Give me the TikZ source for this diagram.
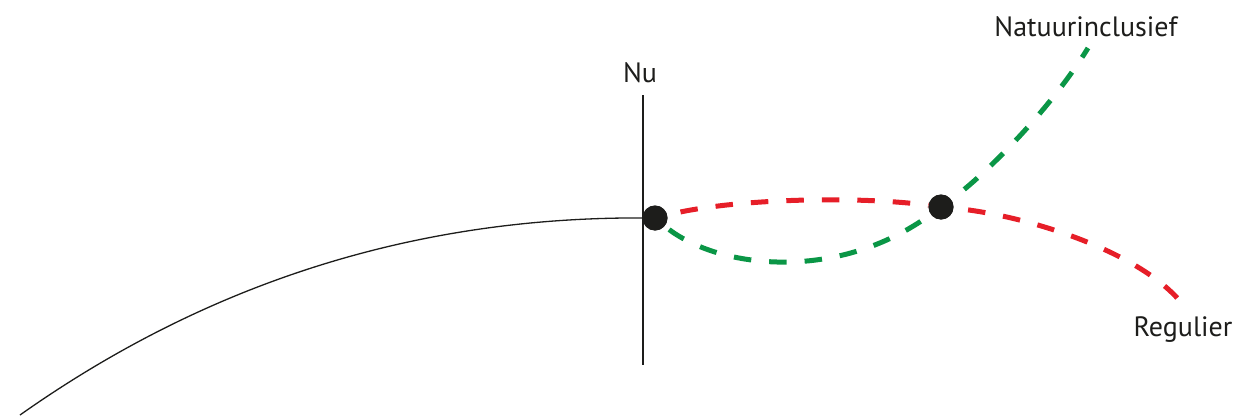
\documentclass[tikz,border=0pt]{standalone}
\usepackage{fontspec}
\setmainfont{PT Sans}
\usetikzlibrary{calc}

\definecolor{regred}{RGB}{230,30,40}
\definecolor{natgreen}{RGB}{10,150,70}
\definecolor{inkblack}{RGB}{29,29,27}

\begin{document}
\begin{tikzpicture}[
    x=1pt, y=-1pt,
    dot/.style={circle, fill=inkblack, inner sep=0pt, minimum size=25pt},
    lbl/.style={anchor=base, inner sep=0pt, font=\fontsize{28}{34}\selectfont, text=inkblack},
    path/.style={line width=1.3pt, draw=inkblack},
    scen/.style={line width=5pt, dash pattern=on 17.5pt off 18pt},
    reg/.style={scen, draw=regred},
    nat/.style={scen, draw=natgreen},
]
\useasboundingbox (0,0) rectangle (1241,415);

% Points
\node[dot] (now) at (655,218) {};
\node[dot] (split) at (941,207) {};
\coordinate (start) at (20,415);
\coordinate (top) at (643,95);
\coordinate (bottom) at (643,365);
\coordinate (natend) at (1088,48);
\coordinate (regend) at (1179,300);

% Labels
\node[lbl] (nu) at (640,82) {Nu};
\node[lbl] (natuur) at (1086,36) {Natuurinclusief};
\node[lbl] (regulier) at (1183,336) {Regulier};

% Past and present
\draw[path] (start) .. controls (207,283) and (414,217) .. (now);
\draw[line width=1.5pt, draw=inkblack] (top) -- (bottom);

% Scenarios
\draw[reg, dash phase=22pt] (now) .. controls (735,198) and (860,196) .. (split);
\draw[nat, dash phase=30pt] (now) .. controls (715,268) and (835,284) .. (split);
\draw[nat, dash phase=19pt] (split) .. controls (985,175) and (1050,110) .. (natend);
\draw[reg, dash phase=21pt] (split) .. controls (1025,215) and (1135,250) .. (regend);

% Dots on top
\node[dot] at (now) {};
\node[dot] at (split) {};

\end{tikzpicture}
\end{document}
